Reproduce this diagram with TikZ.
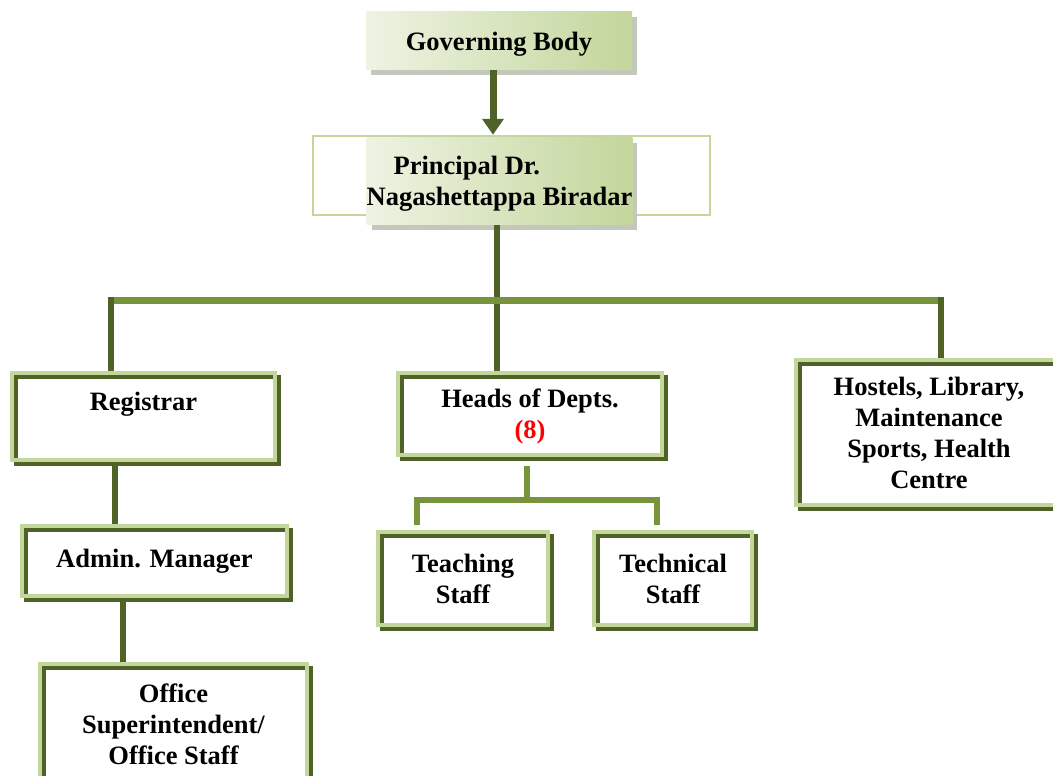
\documentclass[tikz,border=0pt]{standalone}
\usepackage{fontspec}
\setmainfont{Liberation Serif}
\usetikzlibrary{shadows,arrows.meta}
\definecolor{darkol}{HTML}{4F6228}
\definecolor{midol}{HTML}{77933C}
\definecolor{lightol}{HTML}{C3D69B}
\definecolor{paleol}{HTML}{EEF3E3}
\definecolor{shadowgr}{HTML}{C4C7BC}
\begin{document}
\begin{tikzpicture}[x=1pt,y=-1pt,
  font=\fontsize{26.5}{31}\selectfont\bfseries,
  frame/.style={draw=lightol, line width=4pt, align=center, inner sep=0pt,
     general shadow={shadow xshift=4pt, shadow yshift=-4pt, draw=darkol, line width=3.6pt, fill=white, opacity=1}},
  gbox/.style={left color=paleol, right color=lightol, inner sep=0pt,
     drop shadow={shadow xshift=5pt, shadow yshift=-5pt, fill=shadowgr, opacity=1}},
  darkc/.style={draw=darkol, line width=6pt},
  midc/.style={draw=midol, line width=7pt},
  arrowc/.style={draw=darkol, line width=7pt, -{Triangle[width=21pt,length=16pt]}}
]
\useasboundingbox (0,0) rectangle (1053,776);

% top boxes
\node[gbox, minimum width=266, minimum height=58, text depth=0pt] (gov) at (499,41) {Governing Body};
\node[draw=lightol, line width=2.5pt, minimum width=397, minimum height=79] (prin) at (511.5,175.5) {};
\node[gbox, minimum width=265, minimum height=87, align=left, text depth=0pt] (pb) at (499.5,181) {\hspace*{27pt}Principal Dr.\\Nagashettappa Biradar};

% framed boxes
\node[frame, minimum width=263, minimum height=87] (reg) at (143.5,416.5) {Registrar\\\mbox{}};
\node[frame, minimum width=264, minimum height=82, text depth=0pt] (hod) at (530,414) {Heads of Depts.\\\textcolor{red}{(8)}};
\node[frame, minimum width=266, minimum height=145] (hos) at (929,432.5) {Hostels, Library,\\Maintenance\\Sports, Health\\Centre};
\node[frame, minimum width=265, minimum height=70] (adm) at (154.5,561) {Admin. Manager};
\node[frame, minimum width=267, minimum height=120] (off) at (173.5,724) {Office\\Superintendent/\\Office Staff};
\node[frame, minimum width=170, minimum height=93] (tea) at (463,578.5) {Teaching\\Staff};
\node[frame, minimum width=158, minimum height=93] (tec) at (673,578.5) {Technical\\Staff};

% connectors
\coordinate (ax) at (493,0);
\draw[arrowc] (gov.south -| ax) -- (prin.north -| ax);

\coordinate (dL) at (111,300);
\coordinate (dM) at (497,300);
\coordinate (dR) at (941,300);
\draw[darkc] (pb.south -| dM) -- (dM);
\draw[darkc] ([yshift=3pt]dL) -- (dL |- reg.north);
\draw[darkc] ([yshift=3pt]dM) -- (dM |- hod.north);
\draw[darkc] ([yshift=3pt]dR) -- (dR |- hos.north);
\draw[midc] ([xshift=3pt]dL) -- ([xshift=-3pt]dR);

\coordinate (rx) at (115,0);
\draw[darkc] (reg.south -| rx) -- (adm.north -| rx);
\coordinate (ox) at (123,0);
\draw[darkc] (adm.south -| ox) -- (off.north -| ox);

\coordinate (hs) at (527,500);
\draw[midc, line width=6.5pt, shorten <=9pt] (hod.south -| hs) -- (hs);
\draw[midc, line width=6.5pt, shorten <=5pt, shorten >=5pt] ([xshift=-46pt]tea.north) |- (hs) -| ([xshift=-16pt]tec.north);
\end{tikzpicture}
\end{document}
